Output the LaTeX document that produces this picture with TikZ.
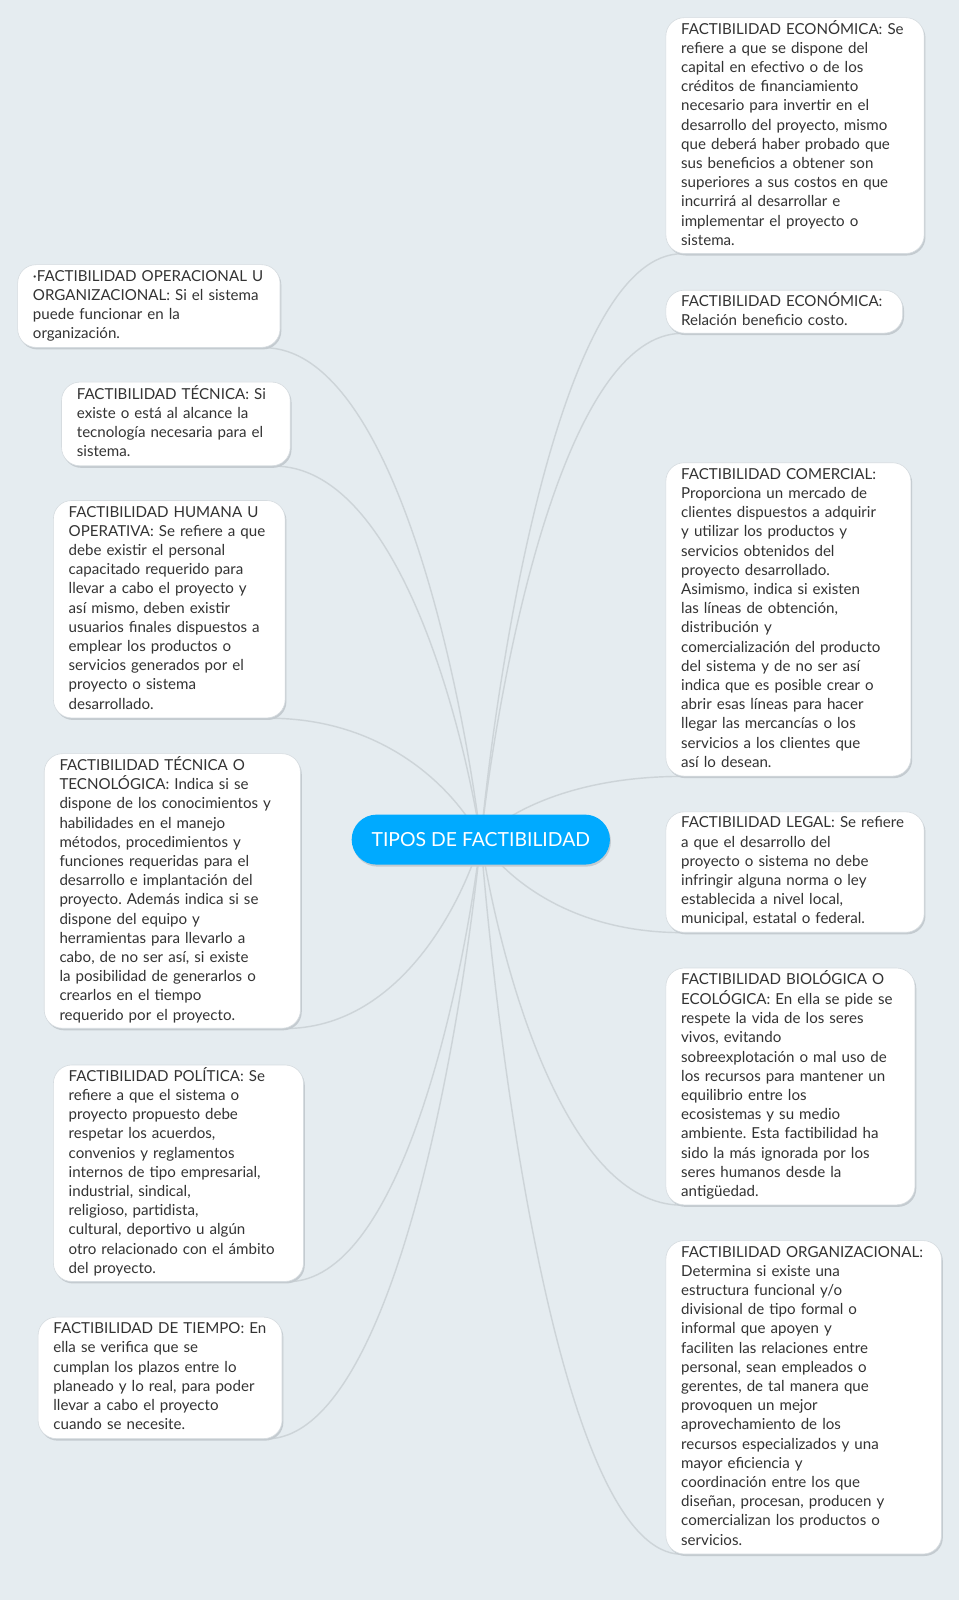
\documentclass[tikz,border=0pt]{standalone}
\usepackage{fontspec}
\setmainfont{Lato}
\usetikzlibrary{calc}
\definecolor{bgc}{RGB}{229,236,240}
\definecolor{linec}{RGB}{205,212,216}
\definecolor{txtc}{RGB}{51,51,51}
\definecolor{hubc}{RGB}{0,170,255}
\definecolor{edgec}{RGB}{214,220,224}
\definecolor{shadc}{RGB}{196,203,208}
\pgfdeclarelayer{bg}
\pgfsetlayers{bg,main}
\newcommand\bxt[1]{\begin{tabular}{@{}l@{}}#1\end{tabular}}
\newcommand\linkto[1]{%
  \draw[connector] let \p1=(hub), \p2=(#1) in
    (\p1) .. controls ({\x1+0.1*(\x2-\x1)},{\y1+0.35*(\y2-\y1)}) and ({\x1+0.42*(\x2-\x1)},\y2) .. (\p2);}
\begin{document}
\frenchspacing
\begin{tikzpicture}[x=1pt,y=-1pt,
  topic/.style={draw=edgec, line width=0.6pt, fill=white, rounded corners=18pt,
    text=txtc, font=\fontsize{14.8}{18.8}\selectfont, inner xsep=15pt, inner ysep=0pt,
    align=left, anchor=north west,
    preaction={draw=none, fill=shadc, transform canvas={xshift=1.3pt, yshift=-2pt}}},
  central/.style={fill=hubc, rounded corners=24.5pt, text=white,
    font=\fontsize{19}{22}\selectfont, minimum width=253pt, minimum height=49pt,
    inner sep=0pt,
    preaction={draw=none, fill=shadc, transform canvas={xshift=1pt, yshift=-2pt}}},
  connector/.style={draw=linec, line width=1.4pt}]

\begin{pgfonlayer}{bg}
\fill[bgc] (0,0) rectangle (939.5,1567.4);
\end{pgfonlayer}
\useasboundingbox (0,0) rectangle (939.5,1567.4);

\node[central] (c) at (471,822.5) {TIPOS DE FACTIBILIDAD};
\coordinate (hub) at (c.center);

% right side
\node[topic, text width=223pt, minimum height=231pt] (r1) at (652,17) {\bxt{%
FACTIBILIDAD ECONÓMICA: Se\\
refiere a que se dispone del\\
capital en efectivo o de los\\
créditos de financiamiento\\
necesario para invertir en el\\
desarrollo del proyecto, mismo\\
que deberá haber probado que\\
sus beneficios a obtener son\\
superiores a sus costos en que\\
incurrirá al desarrollar e\\
implementar el proyecto o\\
sistema.}};

\node[topic, text width=202pt, minimum height=42pt] (r2) at (652,284) {\bxt{%
FACTIBILIDAD ECONÓMICA:\\
Relación beneficio costo.}};

\node[topic, text width=210pt, minimum height=307pt] (r3) at (652,453) {\bxt{%
FACTIBILIDAD COMERCIAL:\\
Proporciona un mercado de\\
clientes dispuestos a adquirir\\
y utilizar los productos y\\
servicios obtenidos del\\
proyecto desarrollado.\\
Asimismo, indica si existen\\
las líneas de obtención,\\
distribución y\\
comercialización del producto\\
del sistema y de no ser así\\
indica que es posible crear o\\
abrir esas líneas para hacer\\
llegar las mercancías o los\\
servicios a los clientes que\\
así lo desean.}};

\node[topic, text width=223pt, minimum height=118pt] (r4) at (652,795) {\bxt{%
FACTIBILIDAD LEGAL: Se refiere\\
a que el desarrollo del\\
proyecto o sistema no debe\\
infringir alguna norma o ley\\
establecida a nivel local,\\
municipal, estatal o federal.}};

\node[topic, text width=214pt, minimum height=232pt] (r5) at (652,948) {\bxt{%
FACTIBILIDAD BIOLÓGICA O\\
ECOLÓGICA: En ella se pide se\\
respete la vida de los seres\\
vivos, evitando\\
sobreexplotación o mal uso de\\
los recursos para mantener un\\
equilibrio entre los\\
ecosistemas y su medio\\
ambiente. Esta factibilidad ha\\
sido la más ignorada por los\\
seres humanos desde la\\
antigüedad.}};

\node[topic, text width=240pt, minimum height=307pt] (r6) at (652,1215) {\bxt{%
FACTIBILIDAD ORGANIZACIONAL:\\
Determina si existe una\\
estructura funcional y/o\\
divisional de tipo formal o\\
informal que apoyen y\\
faciliten las relaciones entre\\
personal, sean empleados o\\
gerentes, de tal manera que\\
provoquen un mejor\\
aprovechamiento de los\\
recursos especializados y una\\
mayor eficiencia y\\
coordinación entre los que\\
diseñan, procesan, producen y\\
comercializan los productos o\\
servicios.}};

% left side
\node[topic, text width=227pt, minimum height=81pt] (l1) at (17,259) {\bxt{%
·FACTIBILIDAD OPERACIONAL U\\
ORGANIZACIONAL: Si el sistema\\
puede funcionar en la\\
organización.}};

\node[topic, text width=194pt, minimum height=82pt] (l2) at (60,374) {\bxt{%
FACTIBILIDAD TÉCNICA: Si\\
existe o está al alcance la\\
tecnología necesaria para el\\
sistema.}};

\node[topic, text width=197pt, minimum height=213pt] (l3) at (52,490) {\bxt{%
FACTIBILIDAD HUMANA U\\
OPERATIVA: Se refiere a que\\
debe existir el personal\\
capacitado requerido para\\
llevar a cabo el proyecto y\\
así mismo, deben existir\\
usuarios finales dispuestos a\\
emplear los productos o\\
servicios generados por el\\
proyecto o sistema\\
desarrollado.}};

\node[topic, text width=221pt, minimum height=269pt] (l4) at (43,738) {\bxt{%
FACTIBILIDAD TÉCNICA O\\
TECNOLÓGICA: Indica si se\\
dispone de los conocimientos y\\
habilidades en el manejo\\
métodos, procedimientos y\\
funciones requeridas para el\\
desarrollo e implantación del\\
proyecto. Además indica si se\\
dispone del equipo y\\
herramientas para llevarlo a\\
cabo, de no ser así, si existe\\
la posibilidad de generarlos o\\
crearlos en el tiempo\\
requerido por el proyecto.}};

\node[topic, text width=215pt, minimum height=212pt] (l5) at (52,1043) {\bxt{%
FACTIBILIDAD POLÍTICA: Se\\
refiere a que el sistema o\\
proyecto propuesto debe\\
respetar los acuerdos,\\
convenios y reglamentos\\
internos de tipo empresarial,\\
industrial, sindical,\\
religioso, partidista,\\
cultural, deportivo u algún\\
otro relacionado con el ámbito\\
del proyecto.}};

\node[topic, text width=209pt, minimum height=119pt] (l6) at (37,1290) {\bxt{%
FACTIBILIDAD DE TIEMPO: En\\
ella se verifica que se\\
cumplan los plazos entre lo\\
planeado y lo real, para poder\\
llevar a cabo el proyecto\\
cuando se necesite.}};

\begin{pgfonlayer}{bg}
\linkto{[xshift=16pt]r1.south west}
\linkto{[xshift=16pt]r2.south west}
\linkto{[xshift=16pt]r3.south west}
\linkto{[xshift=16pt]r4.south west}
\linkto{[xshift=16pt]r5.south west}
\linkto{[xshift=16pt]r6.south west}
\linkto{[xshift=-16pt]l1.south east}
\linkto{[xshift=-16pt]l2.south east}
\linkto{[xshift=-16pt]l3.south east}
\linkto{[xshift=-16pt]l4.south east}
\linkto{[xshift=-16pt]l5.south east}
\linkto{[xshift=-16pt]l6.south east}
\end{pgfonlayer}
\end{tikzpicture}
\end{document}
